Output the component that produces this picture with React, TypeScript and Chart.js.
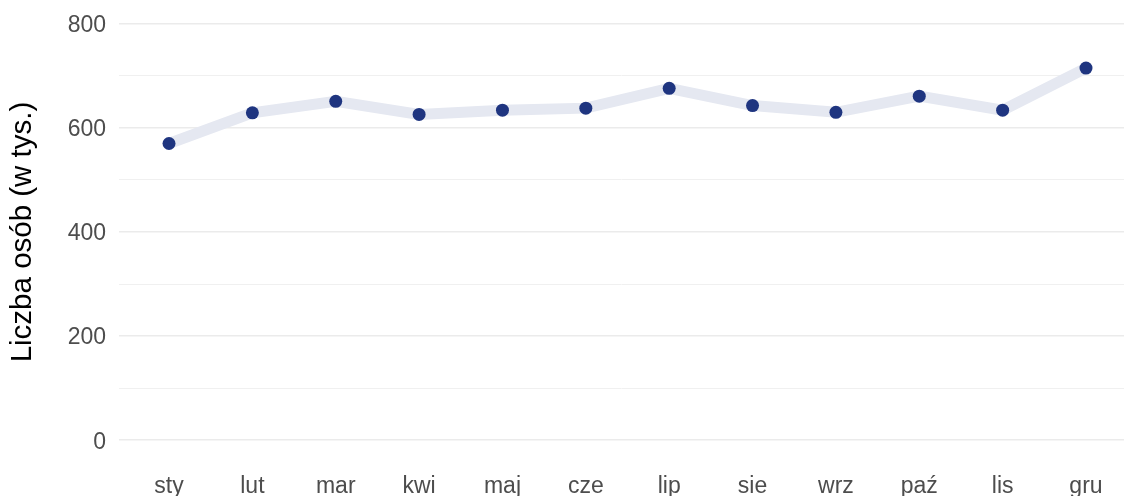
import React, { useEffect, useRef } from "react";
import { Chart, registerables } from "chart.js";

Chart.register(...registerables);

const months = ["sty", "lut", "mar", "kwi", "maj", "cze", "lip", "sie", "wrz", "paź", "lis", "gru"];
const values = [570, 629, 651, 626, 634, 638, 676, 643, 630, 661, 634, 715];
const yTicks = [0, 100, 200, 300, 400, 500, 600, 700, 800];
const yTitle = "Liczba osób (w tys.)";

const FONT = "Arial, 'Liberation Sans', sans-serif";

export default function App() {
  const ref = useRef<HTMLCanvasElement | null>(null);
  useEffect(() => {
    document.body.style.margin = "0";
    const ctx = ref.current!;
    const chart = new Chart(ctx, {
      type: "line",
      data: {
        datasets: [
          {
            data: values.map((v, i) => ({ x: i, y: v })),
            borderColor: "#e5e8f1",
            borderWidth: 11,
            pointRadius: 6.5,
            pointBackgroundColor: "#1f3580",
            pointBorderWidth: 0,
            tension: 0,
          },
        ],
      },
      options: {
        animation: false,
        responsive: false,
        maintainAspectRatio: false,
        layout: { autoPadding: false, padding: { left: 0, right: 0, top: 3, bottom: 0 } },
        plugins: { legend: { display: false }, tooltip: { enabled: false } },
        scales: {
          x: {
            type: "linear",
            min: -0.6,
            max: 11.456,
            afterBuildTicks: (s: any) => {
              s.ticks = months.map((_, i) => ({ value: i }));
            },
            afterFit: (s: any) => {
              s.height = 35;
              s.paddingLeft = 0;
              s.paddingRight = 0;
            },
            grid: { display: false, drawTicks: false },
            border: { display: false },
            ticks: {
              autoSkip: false,
              maxRotation: 0,
              padding: 12,
              color: "#4d4d4d",
              font: { family: FONT, size: 23 },
              callback: (v: any) => months[v as number] ?? "",
            },
          },
          y: {
            min: -40,
            max: 840,
            afterBuildTicks: (s: any) => {
              s.ticks = yTicks.map((v) => ({ value: v }));
            },
            afterFit: (s: any) => {
              s.width = 119;
              s.paddingTop = 0;
              s.paddingBottom = 0;
            },
            grid: {
              drawTicks: false,
              color: (c: any) => (c.tick && c.tick.value % 200 === 0 ? "#ebebeb" : "#f0f0f0"),
              lineWidth: (c: any) => (c.tick && c.tick.value % 200 === 0 ? 1.6 : 1),
            },
            border: { display: false },
            ticks: {
              padding: 13,
              labelOffset: 2,
              color: "#4d4d4d",
              font: { family: FONT, size: 23 },
              callback: (v: any) => ((v as number) % 200 === 0 ? String(v) : ""),
            },
            title: {
              display: true,
              text: yTitle,
              color: "#000000",
              padding: { top: 5, bottom: 0 },
              font: { family: FONT, size: 29.5 },
            },
          },
        },
      },
    });
    return () => chart.destroy();
  }, []);
  return <canvas ref={ref} width={1124} height={496} style={{ display: "block" }} />;
}
